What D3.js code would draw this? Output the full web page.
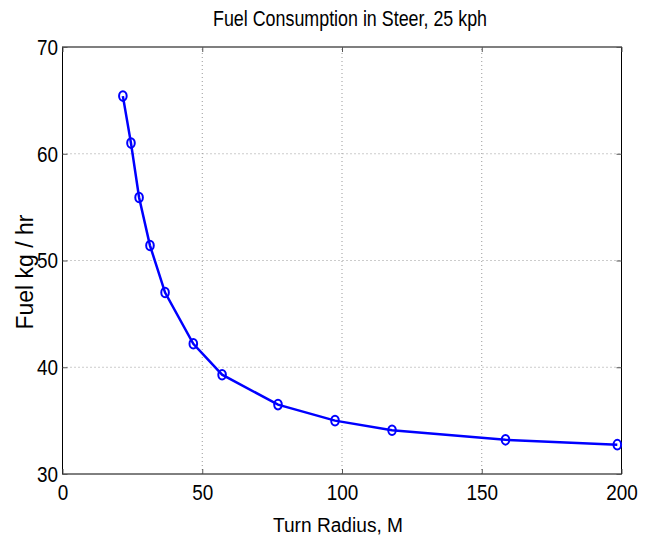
<!DOCTYPE html>
<html>
<head>
<meta charset="utf-8">
<script src="https://cdn.jsdelivr.net/npm/d3@7"></script>
<style>
body { margin: 0; background: #fff; }
svg text { font-family: "Liberation Sans", Arial, sans-serif; fill: #000; }
</style>
</head>
<body>
<svg id="chart" width="652" height="535"></svg>
<script>
// data
var radius = [21.6, 24.5, 27.4, 31.3, 36.7, 46.8, 57.1, 77.1, 97.5, 117.9, 158.5, 198.5];
var fuel = [65.4, 61.0, 55.9, 51.4, 47.0, 42.2, 39.3, 36.5, 35.0, 34.1, 33.2, 32.75];
var xTicks = [0, 50, 100, 150, 200];
var yTicks = [30, 40, 50, 60, 70];

var margin = {left: 62.5, right: 30.5, top: 47, bottom: 61};
var W = 652, H = 535;

var svg = d3.select("#chart");

var x = d3.scaleLinear().domain([0, 200]).range([margin.left, W - margin.right]);
var y = d3.scaleLinear().domain([30, 70]).range([H - margin.bottom, margin.top]);

// squeeze text sideways, the source font is narrow
function condense(sel, k){
	sel.each(function(){
		var w = this.getComputedTextLength();
		d3.select(this).attr("textLength", w * k).attr("lengthAdjust", "spacingAndGlyphs");
	});
}

// grid
var grid = svg.append("g");
grid.selectAll(".gx").data(xTicks.slice(1, -1)).enter().append("line")
	.attr("x1", function(d){ return x(d); })
	.attr("x2", function(d){ return x(d); })
	.attr("y1", y(30)).attr("y2", y(70))
	.attr("stroke", "#999").attr("stroke-width", 1)
	.attr("stroke-dasharray", "1,3");
grid.selectAll(".gy").data(yTicks.slice(1, -1)).enter().append("line")
	.attr("y1", function(d){ return y(d); })
	.attr("y2", function(d){ return y(d); })
	.attr("x1", x(0)).attr("x2", x(200))
	.attr("stroke", "#999").attr("stroke-width", 1)
	.attr("stroke-dasharray", "1,3");

// box
svg.append("rect")
	.attr("x", x(0)).attr("y", y(70))
	.attr("width", x(200) - x(0)).attr("height", y(30) - y(70))
	.attr("fill", "none").attr("stroke", "#000").attr("stroke-width", 1);

// axes
var xAxis = svg.append("g")
	.attr("transform", "translate(0," + y(30) + ")")
	.call(d3.axisBottom(x).tickValues(xTicks).tickSize(-5).tickPadding(10.5));
var yAxis = svg.append("g")
	.attr("transform", "translate(" + x(0) + ",0)")
	.call(d3.axisLeft(y).tickValues(yTicks).tickSize(-5).tickPadding(4.5));
var xTop = svg.append("g")
	.attr("transform", "translate(0," + y(70) + ")")
	.call(d3.axisTop(x).tickValues(xTicks).tickSize(-5).tickFormat(""));
var yRight = svg.append("g")
	.attr("transform", "translate(" + x(200) + ",0)")
	.call(d3.axisRight(y).tickValues(yTicks).tickSize(-5).tickFormat(""));
[xAxis, yAxis, xTop, yRight].forEach(function(a){
	a.select(".domain").remove();
	a.selectAll("line").attr("stroke", "#555");
	a.selectAll("text").attr("font-size", 22.5).attr("font-family", null);
});
xAxis.selectAll("text").attr("dy", "0.71em");
yAxis.selectAll("text").attr("dy", "0.33em");
condense(xAxis.selectAll("text"), 0.84);
condense(yAxis.selectAll("text"), 0.84);

// line + markers
var pts = radius.map(function(r, i){ return [r, fuel[i]]; });
svg.append("path")
	.datum(pts)
	.attr("d", d3.line().x(function(d){ return x(d[0]); }).y(function(d){ return y(d[1]); }))
	.attr("fill", "none").attr("stroke", "#0000ff").attr("stroke-width", 2.5);
svg.selectAll(".mk").data(pts).enter().append("ellipse")
	.attr("cx", function(d){ return x(d[0]); })
	.attr("cy", function(d){ return y(d[1]); })
	.attr("rx", 3.8).attr("ry", 4.8)
	.attr("fill", "none").attr("stroke", "#0000ff").attr("stroke-width", 2);

// labels
svg.append("text").attr("x", 350).attr("y", 26)
	.attr("text-anchor", "middle").attr("font-size", 22)
	.attr("textLength", 274).attr("lengthAdjust", "spacingAndGlyphs")
	.text("Fuel Consumption in Steer, 25 kph");
svg.append("text").attr("x", 338).attr("y", 532)
	.attr("text-anchor", "middle").attr("font-size", 20)
	.attr("textLength", 130).attr("lengthAdjust", "spacingAndGlyphs")
	.text("Turn Radius, M");
svg.append("text")
	.attr("transform", "translate(33,272) rotate(-90)")
	.attr("text-anchor", "middle").attr("font-size", 23)
	.attr("textLength", 115).attr("lengthAdjust", "spacingAndGlyphs")
	.text("Fuel kg / hr");
</script>
</body>
</html>
